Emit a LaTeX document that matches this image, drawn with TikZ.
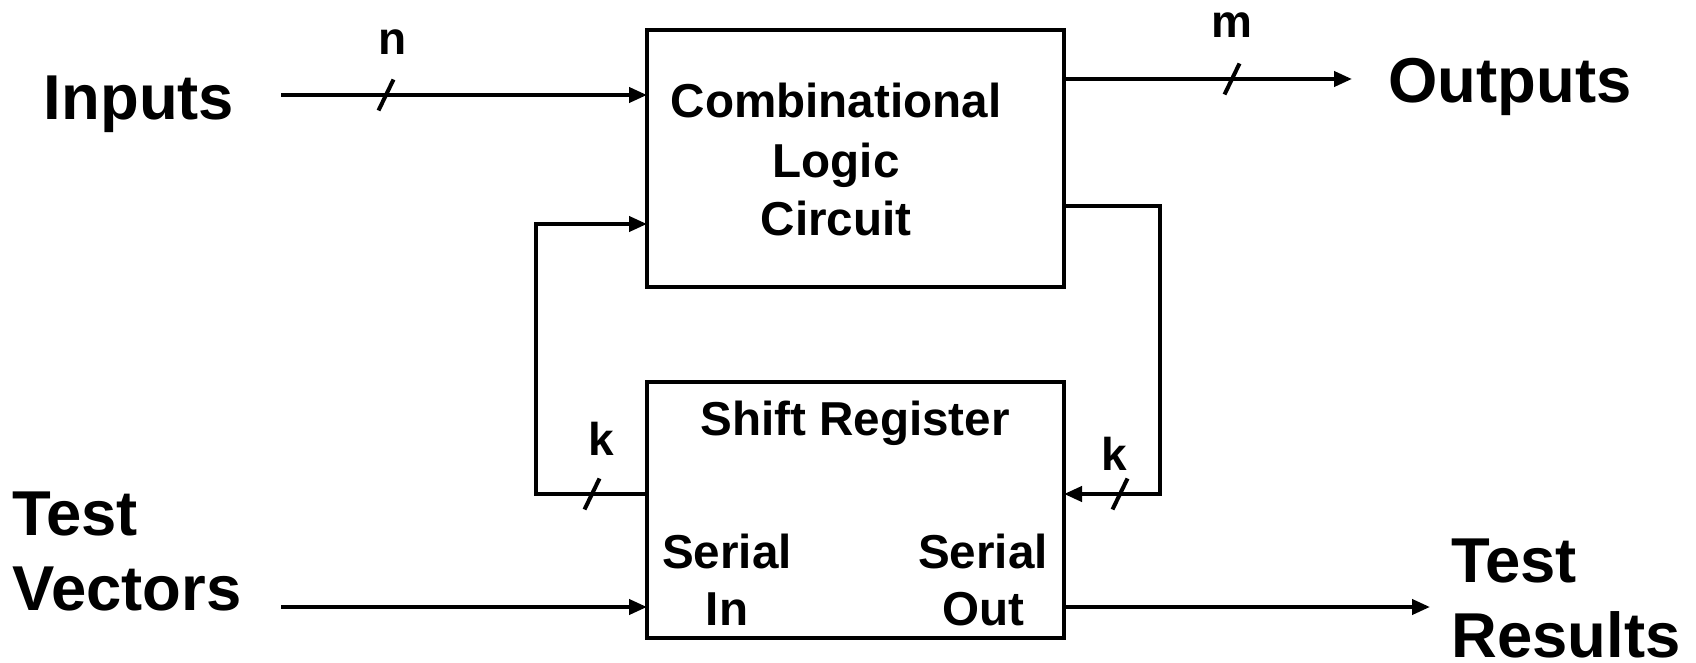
\documentclass[tikz,border=0pt]{standalone}
\usepackage{fontspec}
\setmainfont{Liberation Sans}
\usetikzlibrary{arrows.meta}

\newcommand{\busmark}[1]{%
  \draw[wire] ([shift={(-7.5,15.5)}]#1) -- ([shift={(7.5,-15.5)}]#1);}

\begin{document}
\begin{tikzpicture}[x=0.5pt,y=-0.5pt,
  wire/.style={line width=2pt},
  arr/.style={wire,-{Triangle[length=9pt,width=7.5pt]}},
  block/.style={draw,line width=2pt,rectangle,inner sep=0pt,outer sep=0pt},
  biglbl/.style={inner sep=0pt,font=\fontsize{31.7}{38}\selectfont\bfseries},
  boxlbl/.style={inner sep=0pt,anchor=base,font=\fontsize{23.8}{28}\selectfont\bfseries},
  buslbl/.style={inner sep=0pt,anchor=base,font=\fontsize{23}{28}\selectfont\bfseries}]

\useasboundingbox (0,0) rectangle (1696,663);

% the two blocks
\node[block,minimum width=208.5pt,minimum height=128.5pt] (clc) at (855.5,158.5) {};
\node[block,minimum width=208.5pt,minimum height=128pt] (sr) at (855.5,510) {};

% block texts
\node[boxlbl] (clc1) at (836,118) {Combinational};
\node[boxlbl] (clc2) at (836,178) {Logic};
\node[boxlbl] (clc3) at (836,235) {Circuit};
\node[boxlbl] (srt) at (855,435) {Shift Register};
\node[boxlbl] (sin1) at (727,568) {Serial};
\node[boxlbl] (sin2) at (727,625) {In};
\node[boxlbl] (sout1) at (983,568) {Serial};
\node[boxlbl] (sout2) at (983,625) {Out};

% outer labels
\node[biglbl,anchor=base] (inl) at (139,120) {Inputs};
\node[biglbl,anchor=base] (outl) at (1510,103) {Outputs};
\node[biglbl,anchor=base west] (tv1) at (12,535) {Test};
\node[biglbl,anchor=base west] (tv2) at (12,610) {Vectors};
\node[biglbl,anchor=base west] (tr1) at (1451,582) {Test};
\node[biglbl,anchor=base west] (tr2) at (1451,657) {Results};

% free wire ends and bends
\coordinate (inS) at (281,95);
\coordinate (outE) at (1352,79);
\coordinate (tvS) at (281,607);
\coordinate (trE) at (1430,607);
\coordinate (fbL) at (536,494);
\coordinate (fbLt) at (536,224);
\coordinate (fbR) at (1160,206);
\coordinate (fbRb) at (1160,494);

% connectors
\draw[arr] (inS) -- (inS -| clc.west);
\draw[arr] (clc.east |- outE) -- (outE);
\draw[arr] (tvS) -- (tvS -| sr.west);
\draw[arr] (sr.east |- trE) -- (trE);
\draw[arr] (sr.west |- fbL) -- (fbL) -- (fbLt) -- (fbLt -| clc.west);
\draw[arr] (clc.east |- fbR) -- (fbR) -- (fbRb) -- (fbRb -| sr.east);

% bus width marks
\coordinate (mN) at (386,95);
\coordinate (mM) at (1232,79);
\coordinate (mK1) at (592,494);
\coordinate (mK2) at (1120,494);
\busmark{mN}
\busmark{mM}
\busmark{mK1}
\busmark{mK2}

\node[buslbl] (ln) at (393,55) {n};
\node[buslbl] (lm) at (1232,38) {m};
\node[buslbl] (lk1) at (601,455) {k};
\node[buslbl] (lk2) at (1114,470) {k};

\end{tikzpicture}
\end{document}
